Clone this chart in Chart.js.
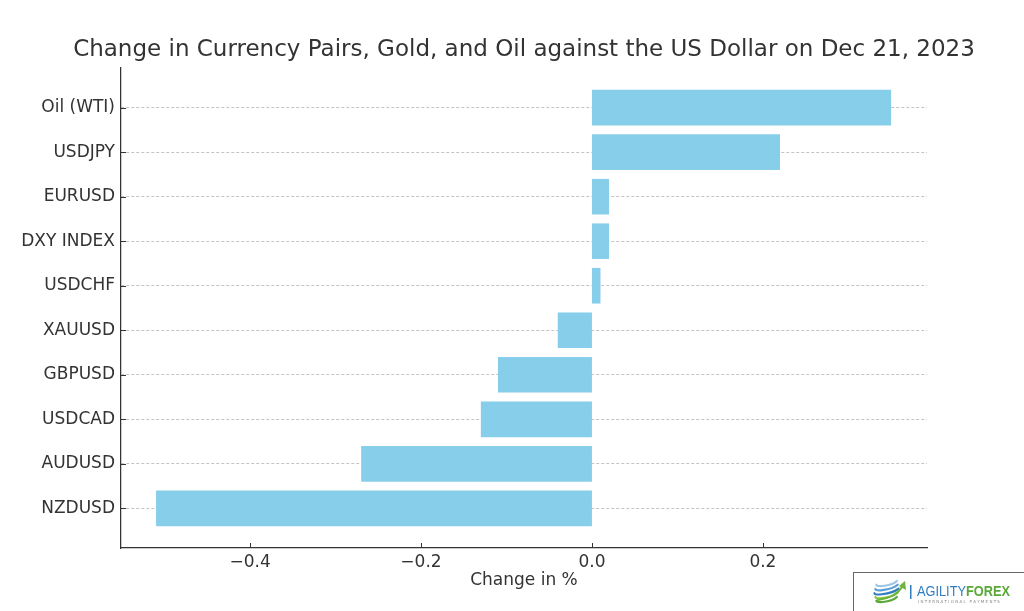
<!DOCTYPE html>
<html>
<head>
<meta charset="utf-8">
<title>Change in Currency Pairs, Gold, and Oil against the US Dollar</title>
<script src="https://cdn.jsdelivr.net/npm/chart.js@4.4.1/dist/chart.umd.min.js"></script>
<style>
  html, body { margin: 0; padding: 0; background: #fff; }
  canvas { display: block; }
</style>
</head>
<body>
<canvas id="chart" width="1024" height="611"></canvas>
<script>
/* ── Données (de haut en bas) ── */
const PAIRS = ['Oil (WTI)', 'USDJPY', 'EURUSD', 'DXY INDEX', 'USDCHF',
               'XAUUSD', 'GBPUSD', 'USDCAD', 'AUDUSD', 'NZDUSD'];
const CHANGES = [0.35, 0.22, 0.02, 0.02, 0.01, -0.04, -0.11, -0.13, -0.27, -0.51];
const X_TICKS = [-0.4, -0.2, 0.0, 0.2];

const TITLE = 'Change in Currency Pairs, Gold, and Oil against the US Dollar on Dec 21, 2023';
const X_LABEL = 'Change in %';

const INK = '#333333';
const FONT = '"DejaVu Sans", Verdana, sans-serif';

Chart.defaults.font.family = FONT;
Chart.defaults.color = INK;

/* ── Titre centré sur la zone du graphique + ticks intérieurs + logo ── */
const decorations = {
  id: 'decorations',
  afterDraw(chart) {
    const { ctx, chartArea: area, scales } = chart;
    ctx.save();

    // ticks tournés vers l'intérieur (style matplotlib)
    ctx.strokeStyle = INK;
    ctx.lineWidth = 1;
    ctx.beginPath();
    scales.x.ticks.forEach(t => {
      const px = Math.round(scales.x.getPixelForValue(t.value)) + 0.5;
      ctx.moveTo(px, area.bottom);
      ctx.lineTo(px, area.bottom - 5);
    });
    scales.y.ticks.forEach(t => {
      const py = Math.round(scales.y.getPixelForValue(t.value)) + 0.5;
      ctx.moveTo(area.left, py);
      ctx.lineTo(area.left + 5, py);
    });
    ctx.stroke();

    // titre
    ctx.fillStyle = INK;
    ctx.font = '23px ' + FONT;
    ctx.textAlign = 'center';
    ctx.textBaseline = 'middle';
    ctx.fillText(TITLE, (area.left + area.right) / 2, 50);

    // logo en bas à droite
    ctx.fillStyle = '#fff';
    ctx.fillRect(853, 572, 180, 50);
    ctx.strokeStyle = '#666';
    ctx.lineWidth = 1;
    ctx.strokeRect(853.5, 572.5, 180, 50);

    const blues = ['#9cc6e6', '#5b9fd6', '#2f7dc0'];
    const greens = ['#8cc63f', '#5aa83a'];
    ctx.lineCap = 'round';
    [0, 1, 2, 3, 4].forEach(i => {
      ctx.beginPath();
      ctx.strokeStyle = i < 3 ? blues[i] : greens[i - 3];
      ctx.lineWidth = 2.2;
      ctx.ellipse(887, 582 + i * 4, 13 - Math.abs(i - 2), 3.2, -0.25, 0.15 * Math.PI, 1.0 * Math.PI);
      ctx.stroke();
    });
    ctx.beginPath();
    ctx.strokeStyle = '#6cb33f';
    ctx.lineWidth = 2.2;
    ctx.moveTo(878, 600);
    ctx.quadraticCurveTo(895, 598, 903, 586);
    ctx.stroke();
    ctx.beginPath();
    ctx.fillStyle = '#6cb33f';
    ctx.moveTo(905, 581);
    ctx.lineTo(906, 590);
    ctx.lineTo(899, 586);
    ctx.closePath();
    ctx.fill();

    ctx.fillStyle = '#2f7dc0';
    ctx.fillRect(910, 585, 1.5, 14);

    // texte du logo, compressé pour tenir dans ~93 px
    ctx.textAlign = 'left';
    ctx.textBaseline = 'alphabetic';
    const fA = '15px "Liberation Sans", sans-serif';
    const fB = 'bold 15px "Liberation Sans", sans-serif';
    ctx.font = fA;
    const wA = ctx.measureText('AGILITY').width;
    ctx.font = fB;
    const wB = ctx.measureText('FOREX').width;
    const sx = 93 / (wA + wB);
    ctx.save();
    ctx.translate(917, 596);
    ctx.scale(sx, 1);
    ctx.font = fA;
    ctx.fillStyle = '#2f7dc0';
    ctx.fillText('AGILITY', 0, 0);
    ctx.font = fB;
    ctx.fillStyle = '#5aa83a';
    ctx.fillText('FOREX', wA, 0);
    ctx.restore();
    ctx.font = '4px "DejaVu Sans", sans-serif';
    ctx.fillStyle = '#888';
    ctx.fillText('I N T E R N A T I O N A L   P A Y M E N T S', 918, 603);

    ctx.restore();
  }
};

new Chart(document.getElementById('chart'), {
  type: 'bar',
  data: {
    datasets: [{
      label: 'Change in %',
      data: CHANGES.map((v, i) => ({ x: v, y: i })),
      backgroundColor: '#87CEEB',
      borderWidth: 0,
      categoryPercentage: 0.8,
      barPercentage: 1.0,
    }]
  },
  options: {
    indexAxis: 'y',
    responsive: false,
    animation: false,
    devicePixelRatio: 1,
    layout: { padding: { top: 68, right: 97, left: 0, bottom: 0 } },
    plugins: {
      legend: { display: false },
      tooltip: { enabled: false },
    },
    scales: {
      x: {
        type: 'linear',
        min: -0.551,
        max: 0.392,
        afterBuildTicks: axis => { axis.ticks = X_TICKS.map(v => ({ value: v })); },
        afterFit: axis => { axis.height = 63; },
        grid: { display: false, drawTicks: false },
        border: { display: true, color: INK, width: 1.25 },
        ticks: {
          color: INK,
          font: { size: 17 },
          padding: 4,
          callback: v => (v < 0 ? '\u2212' : '') + Math.abs(v).toFixed(1),
        },
        title: {
          display: true,
          text: X_LABEL,
          color: INK,
          font: { size: 17 },
          padding: { top: 0, bottom: 20 },
        },
      },
      y: {
        type: 'linear',
        reverse: true,
        offset: false,
        min: -0.89,
        max: PAIRS.length - 1 + 0.89,
        afterBuildTicks: axis => { axis.ticks = PAIRS.map((_, i) => ({ value: i })); },
        afterFit: axis => { axis.width = 121; },
        grid: { color: '#c4c4c4', lineWidth: 1, drawTicks: false, offset: false },
        border: { display: true, color: INK, width: 1.25, dash: [3, 2] },
        ticks: {
          color: INK,
          font: { size: 17 },
          padding: 6,
          callback: v => PAIRS[v] ?? '',
        },
      },
    },
  },
  plugins: [decorations],
});
</script>
</body>
</html>
